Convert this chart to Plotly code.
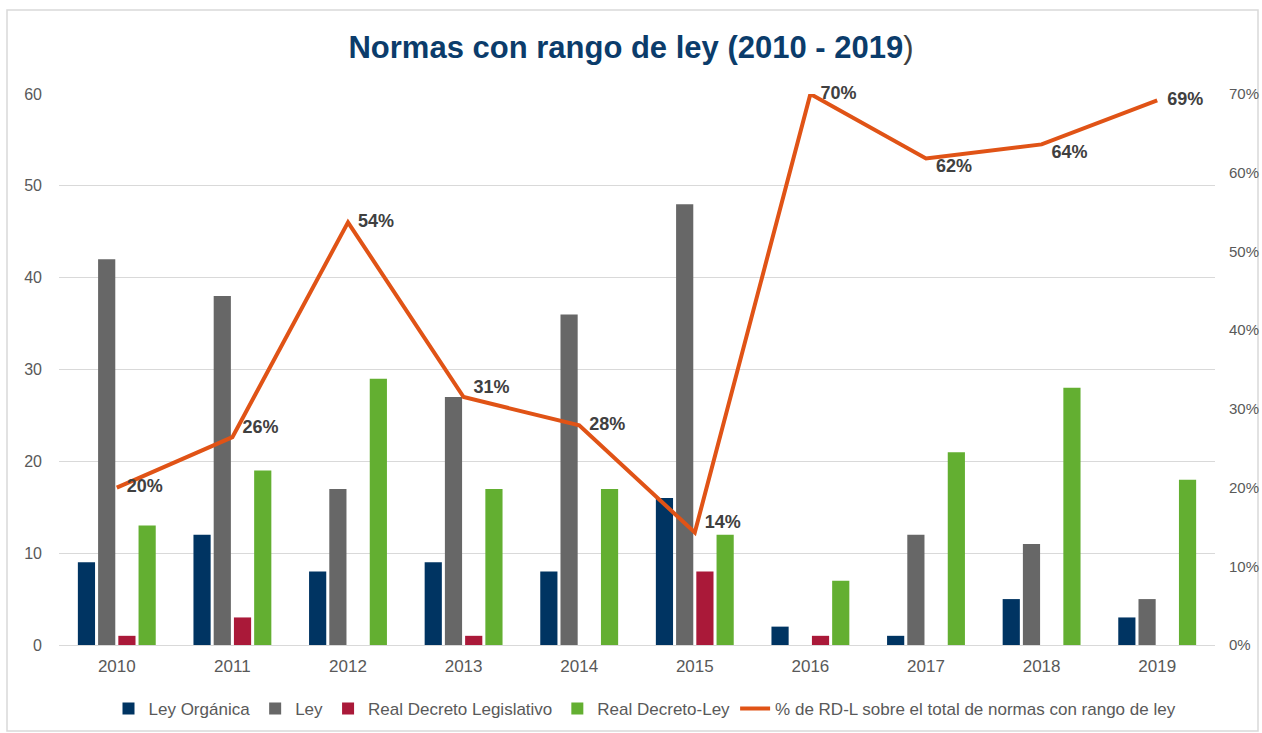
import plotly.graph_objects as go

years = ["2010", "2011", "2012", "2013", "2014", "2015", "2016", "2017", "2018", "2019"]
ley_organica = [9, 12, 8, 9, 8, 16, 2, 1, 5, 3]
ley = [42, 38, 17, 27, 36, 48, 0, 12, 11, 5]
rd_legislativo = [1, 3, 0, 1, 0, 8, 1, 0, 0, 0]
rd_ley = [13, 19, 29, 17, 17, 12, 7, 21, 28, 18]
pct_rdl = [0.20, 0.264, 0.537, 0.315, 0.279, 0.143, 0.70, 0.618, 0.636, 0.692]
pct_labels = ["20%", "26%", "54%", "31%", "28%", "14%", "70%", "62%", "64%", "69%"]
label_pos = ["middle right", "top right", "middle right", "top right", "middle right",
             "top right", "middle right", "bottom right", "bottom right", "middle right"]

navy = "#003462"
gray = "#676767"
crimson = "#AA1939"
green = "#63AF31"
orange = "#E05316"

fig = go.Figure()
for name, vals, col in [("Ley Orgánica", ley_organica, navy), ("Ley", ley, gray),
                        ("Real Decreto Legislativo", rd_legislativo, crimson),
                        ("Real Decreto-Ley", rd_ley, green)]:
    fig.add_trace(go.Bar(x=years, y=vals, name=name, marker=dict(color=col, line=dict(width=0))))

fig.add_trace(go.Scatter(
    x=years, y=pct_rdl, name="% de RD-L sobre el total de normas con rango de ley",
    mode="lines+text", yaxis="y2", cliponaxis=False,
    line=dict(color=orange, width=4),
    text=["  " + t for t in pct_labels], textposition=label_pos,
    textfont=dict(family="Liberation Sans, Arial, sans-serif", size=18, color="#404040", weight="bold"),
))

PW = 1262 - 59 - 47
PH = 733 - 94 - 88

fig.update_layout(
    width=1262, height=733,
    margin=dict(l=59, r=47, t=94, b=88),
    paper_bgcolor="white", plot_bgcolor="white",
    title=dict(text="Normas con rango de ley (2010 - 2019<span style='color:#404040;font-weight:normal'>)</span>",
               x=0.5, xanchor="center", y=0.936, yanchor="middle",
               font=dict(family="Liberation Sans Narrow, Arial Narrow, sans-serif", size=31, color="#0B3C6B", weight="bold")),
    barmode="group", bargap=0.3, bargroupgap=0.15,
    font=dict(family="Liberation Sans Narrow, Arial Narrow, sans-serif", size=16, color="#595959"),
    xaxis=dict(showgrid=False, showline=True, linecolor="#D9D9D9", linewidth=1, ticks="", automargin=False,
               tickfont=dict(size=17, color="#595959"), ticklabelstandoff=6),
    yaxis=dict(range=[0, 60], dtick=10, showgrid=True, gridcolor="#D9D9D9", gridwidth=1, automargin=False,
               zeroline=False, showline=False, tickfont=dict(size=16, color="#595959"), ticklabelstandoff=16),
    yaxis2=dict(range=[0, 0.7], dtick=0.1, tickformat=".0%", overlaying="y", side="right", automargin=False,
                showgrid=False, zeroline=False, showline=False, tickfont=dict(size=15, color="#595959"), ticklabelstandoff=13),
    legend=dict(orientation="h", xref="container", yref="container", x=645 / 1262, xanchor="center",
                y=1 - 709 / 733, yanchor="middle",
                font=dict(size=17, color="#595959"), traceorder="normal", itemwidth=30, tracegroupgap=0),
    showlegend=True,
    shapes=[dict(type="rect", xref="paper", yref="paper",
                 x0=(7 - 59) / PW, x1=(1258 - 59) / PW, y0=-(731 - 645) / PH, y1=(645 - 10) / PH,
                 line=dict(color="#D9D9D9", width=1.5), fillcolor="rgba(0,0,0,0)", layer="below")],
)

fig.write_html("out.html", config={"displayModeBar": False},
               post_script="document.body.style.margin='0';")
